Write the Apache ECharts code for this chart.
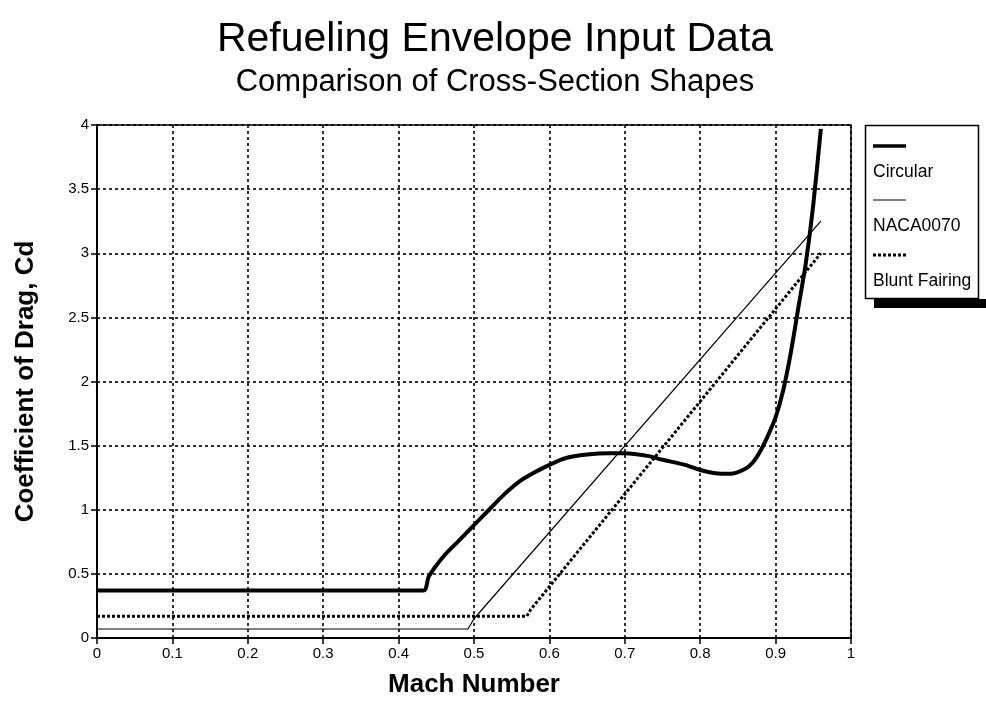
<!DOCTYPE html>
<html>
<head>
<meta charset="utf-8">
<script src="https://cdn.jsdelivr.net/npm/echarts@6/dist/echarts.min.js"></script>
<style>html,body{margin:0;padding:0;background:#fff;}#c{width:986px;height:703px;}</style>
</head>
<body>
<div id="c"></div>
<script>
const seriesNames = ['Circular', 'NACA0070', 'Blunt Fairing'];
const xTicks = [0, 0.1, 0.2, 0.3, 0.4, 0.5, 0.6, 0.7, 0.8, 0.9, 1];
const yTicks = [0, 0.5, 1, 1.5, 2, 2.5, 3, 3.5, 4];

const circularX = [0, 0.433, 0.44, 0.46, 0.48, 0.5, 0.52, 0.54, 0.56, 0.58, 0.6, 0.62, 0.65, 0.68, 0.7, 0.73, 0.75, 0.78, 0.8, 0.82, 0.84, 0.86, 0.87, 0.88, 0.89, 0.9, 0.91, 0.92, 0.93, 0.94, 0.95, 0.96];
const circularY = [0.37, 0.37, 0.48, 0.64, 0.76, 0.88, 1.0, 1.12, 1.22, 1.29, 1.35, 1.40, 1.43, 1.44, 1.44, 1.42, 1.39, 1.35, 1.31, 1.285, 1.28, 1.32, 1.37, 1.46, 1.58, 1.72, 1.93, 2.22, 2.57, 2.92, 3.38, 3.97];

const nacaX = [0, 0.492, 0.5, 0.96];
const nacaY = [0.07, 0.07, 0.15, 3.25];

const bluntX = [0, 0.57, 0.575, 0.96];
const bluntY = [0.17, 0.17, 0.22, 3.0];

function zip(xs, ys) { return xs.map((x, i) => [x, ys[i]]); }

const chart = echarts.init(document.getElementById('c'));
const FONT = '"Liberation Sans", Arial, sans-serif';

const legendLeft = 873;
const legendItems = [
  { y: 146, dash: null, w: 3.5 },
  { y: 200, dash: null, w: 1 },
  { y: 255, dash: [3, 2], w: 3 }
];
const graphics = [
  { type: 'rect', shape: { x: 874, y: 299, width: 112, height: 9 }, style: { fill: '#000' } },
  { type: 'rect', shape: { x: 865.5, y: 125.5, width: 113, height: 173 }, style: { fill: '#fff', stroke: '#000', lineWidth: 1.5 } }
];
legendItems.forEach((it, i) => {
  graphics.push({ type: 'line', shape: { x1: legendLeft, y1: it.y, x2: legendLeft + 33, y2: it.y },
    style: { stroke: '#000', lineWidth: it.w, lineDash: it.dash } });
  graphics.push({ type: 'text', x: legendLeft, y: it.y + 26,
    style: { text: seriesNames[i], fill: '#000', font: '17.5px ' + FONT, textVerticalAlign: 'middle' } });
});

chart.setOption({
  animation: false,
  backgroundColor: '#fff',
  title: [
    { text: 'Refueling Envelope Input Data', left: 490, top: 14, textAlign: 'center',
      textStyle: { fontFamily: FONT, fontSize: 41, fontWeight: 'normal', color: '#000' } },
    { text: 'Comparison of Cross-Section Shapes', left: 490, top: 62, textAlign: 'center',
      textStyle: { fontFamily: FONT, fontSize: 31, fontWeight: 'normal', color: '#000' } }
  ],
  grid: { left: 97, right: 135, top: 125, bottom: 63, show: true, borderColor: '#000', borderWidth: 1.5 },
  xAxis: {
    type: 'value', min: xTicks[0], max: xTicks[xTicks.length - 1], interval: 0.1,
    name: 'Mach Number', nameLocation: 'middle', nameGap: 34,
    nameTextStyle: { fontFamily: FONT, fontSize: 26, fontWeight: 'bold', color: '#000' },
    axisLine: { lineStyle: { color: '#000', width: 2 } },
    axisTick: { show: true, length: 6, lineStyle: { color: '#000', width: 1.5 } },
    axisLabel: { color: '#000', fontFamily: FONT, fontSize: 15, margin: 8,
      formatter: v => String(Math.round(v * 10) / 10) },
    splitLine: { show: true, lineStyle: { color: '#000', type: [3, 3], width: 1.6 } }
  },
  yAxis: {
    type: 'value', min: yTicks[0], max: yTicks[yTicks.length - 1], interval: 0.5,
    name: 'Coefficient of Drag, Cd', nameLocation: 'middle', nameGap: 58,
    nameTextStyle: { fontFamily: FONT, fontSize: 26, fontWeight: 'bold', color: '#000' },
    axisLine: { show: true, lineStyle: { color: '#000', width: 2 } },
    axisTick: { show: true, length: 6, lineStyle: { color: '#000', width: 1.5 } },
    axisLabel: { color: '#000', fontFamily: FONT, fontSize: 15, margin: 8 },
    splitLine: { show: true, lineStyle: { color: '#000', type: [3, 3], width: 1.6 } }
  },
  series: [
    { name: seriesNames[0], type: 'line', data: zip(circularX, circularY), smooth: 0.25, showSymbol: false,
      lineStyle: { color: '#000', width: 4 }, z: 5 },
    { name: seriesNames[1], type: 'line', data: zip(nacaX, nacaY), showSymbol: false,
      lineStyle: { color: '#000', width: 1.2 }, z: 4 },
    { name: seriesNames[2], type: 'line', data: zip(bluntX, bluntY), showSymbol: false,
      lineStyle: { color: '#000', width: 3, type: [3, 2] }, z: 4 }
  ],
  graphic: graphics
});
</script>
</body>
</html>
